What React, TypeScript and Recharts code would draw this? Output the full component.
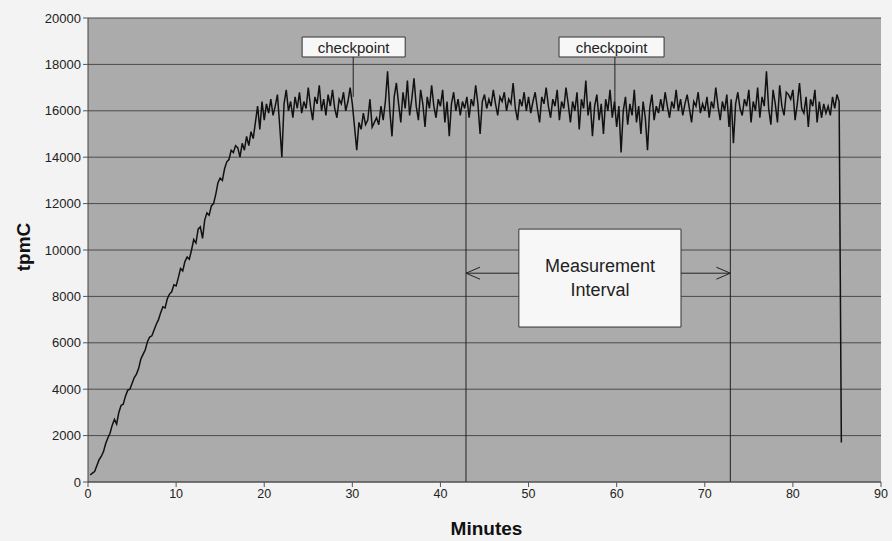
import React from 'react';
import {
  LineChart, Line, XAxis, YAxis, CartesianGrid, ReferenceLine, ReferenceArea,
} from 'recharts';

// sampling: one value every 0.25 minutes starting at 0.25 min
const START_MIN = 0.25;
const STEP_MIN = 0.25;

const tpmcValues: number[] = [
  // 0.25 - 5.0
  300, 380, 450, 700, 950, 1100, 1300, 1650, 1900, 2100, 2450, 2700, 2500, 3000, 3300, 3350, 3700, 3950, 4000, 4250,
  // 5.25 - 10.0
  4500, 4650, 4900, 5300, 5500, 5700, 6050, 6250, 6300, 6550, 6800, 7000, 7300, 7550, 7500, 7900, 8100, 8200, 8500, 8450,
  // 10.25 - 15.0
  8800, 9200, 9100, 9500, 9700, 9600, 10000, 10450, 10300, 10900, 11000, 10500, 11300, 11600, 11500, 11900, 12000, 12400, 12900, 13100,
  // 15.25 - 20.0
  13000, 13500, 13800, 13900, 14300, 14200, 14500, 14400, 14000, 14600, 14300, 14900, 14500, 15100, 14800, 15500, 16200, 15200, 16400, 15600,
  // 20.25 - 25.0
  16300, 15900, 16500, 15800, 16200, 16700, 15400, 14000, 16300, 16900, 16000, 16400, 15700, 16600, 16100, 16800, 15900, 16400, 16100, 17000,
  // 25.25 - 30.0
  16200, 15600, 16600, 16300, 17100, 16000, 16500, 15800, 16700, 16200, 16900, 16100, 15700, 16500, 16300, 16800, 16000, 16400, 17000, 16300,
  // 30.25 - 35.0
  15300, 14300, 15500, 15200, 15900, 15400, 15600, 16500, 15300, 15500, 15700, 15400, 16200, 15600, 16400, 17700, 16000, 14900, 16600, 17200,
  // 35.25 - 40.0
  16300, 15500, 16800, 16100, 17300, 15800, 16500, 17400, 16200, 15600, 16900, 16300, 15300, 16600, 16100, 17100, 16200, 15700, 16500, 16200,
  // 40.25 - 45.0
  16900, 15500, 16400, 14900, 16300, 16800, 16000, 16500, 15800, 16400, 16100, 16600, 15700, 16500, 16200, 17100, 16300, 15000, 16400, 16700,
  // 45.25 - 50.0
  16100, 16500, 16200, 16900, 16300, 15800, 16600, 16400, 16800, 16000, 16500, 16300, 17200, 16100, 15600, 16500, 16200, 16800, 16000, 16600,
  // 50.25 - 55.0
  15900, 16400, 16800, 16100, 15500, 16600, 16300, 17000, 16200, 15700, 16500, 16200, 16900, 15600, 16400, 16100, 17000, 16300, 15500, 16400,
  // 55.25 - 60.0
  16000, 16800, 15200, 16500, 16100, 17300, 15800, 16400, 14900, 16200, 16700, 15600, 16300, 15000, 16500, 16000, 16900, 15700, 16400, 15300,
  // 60.25 - 65.0
  16200, 14200, 16000, 16600, 15400, 16300, 15800, 16900, 15500, 16200, 15000, 16400, 15700, 14300, 16100, 16700, 15600, 16200, 15900, 16500,
  // 65.25 - 70.0
  16000, 16800, 16200, 15700, 16400, 16100, 16900, 16000, 16500, 15800, 16300, 16700, 16100, 15500, 16400, 16200, 16800, 15900, 16300, 16000,
  // 70.25 - 75.0
  16600, 15700, 16400, 16100, 17000, 16200, 15600, 16400, 16000, 16700, 15300, 16500, 14600, 16300, 16800, 16100, 15800, 16500, 16200, 16900,
  // 75.25 - 80.0
  15500, 16400, 16000, 17000, 15700, 16600, 16200, 17700, 16100, 15400, 16900, 16300, 15500, 17100, 16200, 15800, 16800, 16700, 16500, 16900,
  // 80.25 - 85.0
  15600, 16300, 17200, 16100, 15900, 16600, 15300, 16500, 16200, 16900, 15500, 16400, 15700, 16300, 15900, 16200, 15800, 16600, 16100, 16700,
  // 85.25 - 85.5
  16400, 1700,
];

const xTicks = [0, 10, 20, 30, 40, 50, 60, 70, 80, 90];
const yTicks = [0, 2000, 4000, 6000, 8000, 10000, 12000, 14000, 16000, 18000, 20000];

// annotations (in data units)
const checkpointBoxes = [
  { x1: 24.3, x2: 36.0, y1: 18320, y2: 19180, lineX: 30.1, lineTop: 16600 },
  { x1: 53.46, x2: 65.38, y1: 18320, y2: 19180, lineX: 59.8, lineTop: 16000 },
];
const intervalStart = 42.9;
const intervalEnd = 72.9;
const intervalTop = 16000;
const intervalBox = { x1: 48.9, x2: 67.3, y1: 6680, y2: 10900 };
const arrowY = 9000;

const data = tpmcValues.map((v, i) => ({ minute: START_MIN + i * STEP_MIN, tpmc: v }));

const FONT = '"Liberation Sans", Arial, sans-serif';

const ArrowLine = (dir: 'left' | 'right') => (props: any) => {
  const { x1, y1, x2, y2 } = props;
  const tipX = dir === 'left' ? x1 : x2;
  const s = dir === 'left' ? 1 : -1;
  return (
    <g>
      <line x1={x1} y1={y1} x2={x2} y2={y2} stroke="#222" strokeWidth={1} />
      <polyline
        points={`${tipX + s * 14},${y1 - 6} ${tipX},${y1} ${tipX + s * 14},${y1 + 6}`}
        fill="none"
        stroke="#222"
        strokeWidth={1}
      />
    </g>
  );
};

export default function App() {
  return (
    <div style={{ position: 'absolute', left: 0, top: 0, width: 892, height: 541, background: '#f3f3f3' }}>
      <LineChart
        width={892}
        height={541}
        data={data}
        margin={{ top: 18, right: 11, bottom: 0, left: 0 }}
        style={{ fontFamily: FONT }}
      >
        <CartesianGrid
          vertical={false}
          stroke="#4a4a4a"
          strokeWidth={1}
          fill="#ababab"
          fillOpacity={1}
        />
        <XAxis
          dataKey="minute"
          type="number"
          domain={[0, 90]}
          ticks={xTicks}
          height={59}
          tick={{ fill: '#222', fontSize: 12.5, fontFamily: FONT }}
          tickLine={{ stroke: '#555' }}
          axisLine={{ stroke: '#555' }}
          tickSize={5}
          label={{
            content: (p: any) => {
              const vb = p.viewBox;
              return (
                <text
                  x={vb.x + vb.width / 2 + 2}
                  y={vb.y + 53}
                  textAnchor="middle"
                  fontFamily={FONT}
                  fontWeight="bold"
                  fontSize={19}
                  fill="#111"
                >
                  Minutes
                </text>
              );
            },
          }}
        />
        <YAxis
          type="number"
          domain={[0, 20000]}
          ticks={yTicks}
          width={88}
          tick={{ fill: '#222', fontSize: 13, fontFamily: FONT }}
          tickLine={{ stroke: '#555' }}
          axisLine={{ stroke: '#444' }}
          tickSize={5}
          interval={0}
          label={{
            content: (p: any) => {
              const vb = p.viewBox;
              const cx = 23;
              const cy = vb.y + vb.height / 2 - 3;
              return (
                <text
                  x={cx}
                  y={cy}
                  transform={`rotate(-90, ${cx}, ${cy})`}
                  textAnchor="middle"
                  dominantBaseline="central"
                  fontFamily={FONT}
                  fontWeight="bold"
                  fontSize={19}
                  fill="#111"
                >
                  tpmC
                </text>
              );
            },
          }}
        />
        <ReferenceLine
          segment={[{ x: intervalStart, y: 0 }, { x: intervalStart, y: intervalTop }]}
          stroke="#222"
          strokeWidth={1}
        />
        <ReferenceLine
          segment={[{ x: intervalEnd, y: 0 }, { x: intervalEnd, y: intervalTop }]}
          stroke="#222"
          strokeWidth={1}
        />
        {checkpointBoxes.map((b, i) => (
          <ReferenceLine
            key={`cl${i}`}
            segment={[{ x: b.lineX, y: b.lineTop }, { x: b.lineX, y: b.y1 }]}
            stroke="#222"
            strokeWidth={1}
          />
        ))}
        <Line
          type="linear"
          dataKey="tpmc"
          stroke="#111"
          strokeWidth={1.5}
          dot={false}
          isAnimationActive={false}
        />
        <ReferenceLine
          segment={[{ x: intervalStart, y: arrowY }, { x: intervalBox.x1, y: arrowY }]}
          shape={ArrowLine('left')}
        />
        <ReferenceLine
          segment={[{ x: intervalBox.x2, y: arrowY }, { x: intervalEnd, y: arrowY }]}
          shape={ArrowLine('right')}
        />
        {checkpointBoxes.map((b, i) => (
          <ReferenceArea
            key={`cb${i}`}
            x1={b.x1}
            x2={b.x2}
            y1={b.y1}
            y2={b.y2}
            fill="#f7f7f7"
            fillOpacity={1}
            stroke="#333"
            strokeWidth={1}
            label={{
              content: (p: any) => {
                const vb = p.viewBox;
                return (
                  <text
                    x={vb.x + vb.width / 2}
                    y={vb.y + vb.height / 2}
                    textAnchor="middle"
                    dominantBaseline="central"
                    fontFamily={FONT}
                    fontSize={15}
                    fill="#222"
                  >
                    checkpoint
                  </text>
                );
              },
            }}
          />
        ))}
        <ReferenceArea
          x1={intervalBox.x1}
          x2={intervalBox.x2}
          y1={intervalBox.y1}
          y2={intervalBox.y2}
          fill="#f7f7f7"
          fillOpacity={1}
          stroke="#333"
          strokeWidth={1}
          label={{
            content: (p: any) => {
              const vb = p.viewBox;
              const cx = vb.x + vb.width / 2;
              const cy = vb.y + vb.height / 2;
              return (
                <g>
                  <text x={cx} y={cy - 12} textAnchor="middle" dominantBaseline="central" fontFamily={FONT} fontSize={18} fill="#222">
                    Measurement
                  </text>
                  <text x={cx} y={cy + 12} textAnchor="middle" dominantBaseline="central" fontFamily={FONT} fontSize={18} fill="#222">
                    Interval
                  </text>
                </g>
              );
            },
          }}
        />
      </LineChart>
    </div>
  );
}
